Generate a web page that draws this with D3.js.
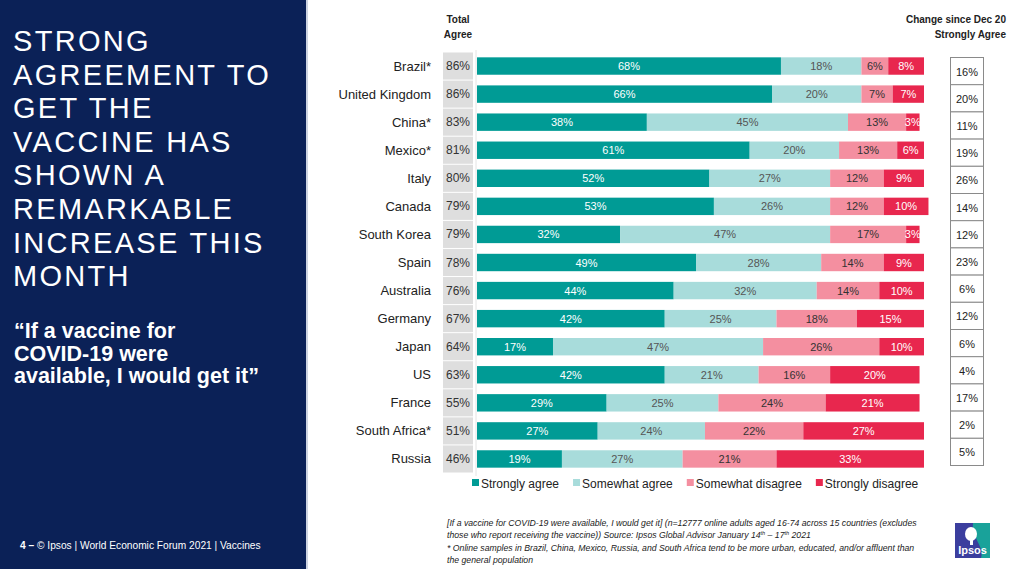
<!DOCTYPE html>
<html>
<head>
<meta charset="utf-8">
<script src="https://cdn.jsdelivr.net/npm/d3@7"></script>
<style>
  html, body { margin: 0; padding: 0; background: #fff; }
  svg { display: block; font-family: "Liberation Sans", Arial, sans-serif; }
</style>
</head>
<body>
<div id="chart"></div>
<script>
// data
const countries = ["Brazil*", "United Kingdom", "China*", "Mexico*", "Italy", "Canada", "South Korea", "Spain",
  "Australia", "Germany", "Japan", "US", "France", "South Africa*", "Russia"];
const totalAgree = [86, 86, 83, 81, 80, 79, 79, 78, 76, 67, 64, 63, 55, 51, 46];
const stronglyAgree = [68, 66, 38, 61, 52, 53, 32, 49, 44, 42, 17, 42, 29, 27, 19];
const somewhatAgree = [18, 20, 45, 20, 27, 26, 47, 28, 32, 25, 47, 21, 25, 24, 27];
const somewhatDisagree = [6, 7, 13, 13, 12, 12, 17, 14, 14, 18, 26, 16, 24, 22, 21];
const stronglyDisagree = [8, 7, 3, 6, 9, 10, 3, 9, 10, 15, 10, 20, 21, 27, 33];
const changeSinceDec = [16, 20, 11, 19, 26, 14, 12, 23, 6, 12, 6, 4, 17, 2, 5];
const seriesNames = ["Strongly agree", "Somewhat agree", "Somewhat disagree", "Strongly disagree"];
const titleLines = ["STRONG", "AGREEMENT TO", "GET THE", "VACCINE HAS", "SHOWN A", "REMARKABLE", "INCREASE THIS", "MONTH"];
const quoteLines = ["\u201CIf a vaccine for", "COVID-19 were", "available, I would get it\u201D"];

const W = 1024, H = 569;
const color = d3.scaleOrdinal().domain(seriesNames).range(['#009b95', '#a8dcdb', '#f48fa0', '#e8274e']);
const labelColor = d3.scaleOrdinal().domain(seriesNames).range(['#ffffff', '#555555', '#333333', '#ffffff']);

const svg = d3.select('#chart').append('svg')
  .attr('width', W)
  .attr('height', H);

// 左侧深蓝面板
svg.append('rect').attr('width', 306).attr('height', H).attr('fill', '#0b2157');
svg.append('rect').attr('x', 306).attr('width', 2).attr('height', H).attr('fill', '#cdd3e0');

svg.append('g').selectAll('text').data(titleLines)
  .join('text')
  .attr('x', 13)
  .attr('y', (d, i) => 51 + i * 33.6)
  .attr('font-size', '29px')
  .attr('letter-spacing', '2.3px')
  .attr('fill', '#fff')
  .text(d => d);

svg.append('g').selectAll('text').data(quoteLines)
  .join('text')
  .attr('x', 14)
  .attr('y', (d, i) => 338 + i * 22.5)
  .attr('font-size', '21.5px')
  .attr('font-weight', 'bold')
  .attr('fill', '#fff')
  .text(d => d);

const foot = svg.append('text').attr('x', 20).attr('y', 549).attr('font-size', '10.2px').attr('fill', '#fff');
foot.append('tspan').attr('font-weight', 'bold').text('4 \u2013 ');
foot.append('tspan').text(' \u00A9 Ipsos |  World Economic Forum 2021 | Vaccines');

// scales
const x = d3.scaleLinear().domain([0, 100]).range([477, 924]);
const y = d3.scaleBand().domain(countries).range([52, 473]).paddingInner(0.38).paddingOuter(0.19);
const row = d3.scaleBand().domain(countries).range([52, 473]);
const boxY = d3.scaleBand().domain(countries).range([57, 465]);

// headers
const hdr = svg.append('g').attr('font-size', '10px').attr('font-weight', 'bold').attr('fill', '#222');
hdr.append('text').attr('x', 458).attr('y', 23).attr('text-anchor', 'middle').text('Total');
hdr.append('text').attr('x', 458).attr('y', 38).attr('text-anchor', 'middle').text('Agree');
hdr.append('text').attr('x', 1006).attr('y', 23).attr('text-anchor', 'end').text('Change since Dec 20');
hdr.append('text').attr('x', 1006).attr('y', 38).attr('text-anchor', 'end').text('Strongly Agree');

// country labels
svg.append('g').selectAll('text').data(countries)
  .join('text')
  .attr('x', 431)
  .attr('y', d => row(d) + row.bandwidth() / 2 + 4.5)
  .attr('text-anchor', 'end')
  .attr('font-size', '13px')
  .attr('fill', '#222')
  .text(d => d);

// total agree grey cells
const tot = svg.append('g');
tot.selectAll('rect').data(countries)
  .join('rect')
  .attr('x', 443)
  .attr('y', d => row(d) + 0.5)
  .attr('width', 30)
  .attr('height', row.bandwidth() - 1)
  .attr('fill', '#dedede');
tot.selectAll('text').data(countries)
  .join('text')
  .attr('x', 458)
  .attr('y', d => row(d) + row.bandwidth() / 2 + 4)
  .attr('text-anchor', 'middle')
  .attr('font-size', '12px')
  .attr('fill', '#333')
  .text((d, i) => totalAgree[i] + '%');

svg.append('line')
  .attr('x1', 476).attr('x2', 476)
  .attr('y1', 50).attr('y2', 476)
  .attr('stroke', '#e4e4e4');

// stacked bars
const table = countries.map((c, i) => ({
  country: c,
  'Strongly agree': stronglyAgree[i],
  'Somewhat agree': somewhatAgree[i],
  'Somewhat disagree': somewhatDisagree[i],
  'Strongly disagree': stronglyDisagree[i]
}));
const stacked = d3.stack().keys(seriesNames)(table);

const layers = svg.append('g').selectAll('g').data(stacked)
  .join('g')
  .attr('fill', d => color(d.key));

layers.selectAll('rect').data(d => d)
  .join('rect')
  .attr('x', d => x(d[0]))
  .attr('y', d => y(d.data.country))
  .attr('width', d => x(d[1]) - x(d[0]))
  .attr('height', y.bandwidth());

layers.selectAll('text').data(d => d.map(p => ({ p: p, key: d.key })))
  .join('text')
  .attr('x', d => (x(d.p[0]) + x(d.p[1])) / 2)
  .attr('y', d => y(d.p.data.country) + y.bandwidth() / 2 + 4)
  .attr('text-anchor', 'middle')
  .attr('font-size', '11px')
  .attr('fill', d => labelColor(d.key))
  .text(d => d.p.data[d.key] + '%');

// change since Dec 20 boxes
const chg = svg.append('g');
chg.selectAll('rect').data(countries)
  .join('rect')
  .attr('x', 950.5)
  .attr('y', d => boxY(d) + 0.5)
  .attr('width', 33)
  .attr('height', boxY.bandwidth())
  .attr('fill', '#fff')
  .attr('stroke', '#8a8a8a')
  .attr('stroke-width', 1);
chg.selectAll('text').data(countries)
  .join('text')
  .attr('x', 967)
  .attr('y', d => boxY(d) + boxY.bandwidth() / 2 + 5)
  .attr('text-anchor', 'middle')
  .attr('font-size', '11px')
  .attr('fill', '#222')
  .text((d, i) => changeSinceDec[i] + '%');

// legend
const legend = svg.append('g').attr('font-size', '12px');
let lx = 472;
seriesNames.forEach(name => {
  legend.append('rect').attr('x', lx).attr('y', 479).attr('width', 7).attr('height', 7).attr('fill', color(name));
  const t = legend.append('text').attr('x', lx + 9).attr('y', 488).attr('fill', '#222').text(name);
  lx += 9 + t.node().getComputedTextLength() + 14;
});

// footnote
const note = svg.append('g').attr('font-size', '8.7px').attr('font-style', 'italic').attr('fill', '#222');
note.append('text').attr('x', 447).attr('y', 526)
  .text('[If a vaccine for COVID-19 were available, I would get it] (n=12777 online adults aged 16-74 across 15 countries (excludes');
const n2 = note.append('text').attr('x', 447).attr('y', 538);
n2.append('tspan').text('those who report receiving the vaccine)) Source: Ipsos Global Advisor January 14');
n2.append('tspan').attr('dy', -3).attr('font-size', '5.5px').text('th');
n2.append('tspan').attr('dy', 3).text(' \u2013 17');
n2.append('tspan').attr('dy', -3).attr('font-size', '5.5px').text('th');
n2.append('tspan').attr('dy', 3).text(' 2021');
note.append('text').attr('x', 447).attr('y', 551)
  .text('* Online samples in Brazil, China, Mexico, Russia, and South Africa tend to be more urban, educated, and/or affluent than');
note.append('text').attr('x', 447).attr('y', 563).text('the general population');

// Ipsos logo
const logo = svg.append('g').attr('transform', 'translate(955,523)');
logo.append('rect').attr('width', 35).attr('height', 35).attr('fill', '#3b3e9e');
logo.append('path').attr('d', 'M18,0 L35,0 L35,35 L26,35 C30,24 16,14 18,0 Z').attr('fill', '#19a29a');
logo.append('ellipse').attr('cx', 16).attr('cy', 11).attr('rx', 6).attr('ry', 7).attr('fill', '#fff');
logo.append('rect').attr('x', 15).attr('y', 15).attr('width', 3).attr('height', 7).attr('fill', '#fff');
logo.append('text').attr('x', 17.5).attr('y', 31).attr('text-anchor', 'middle')
  .attr('font-size', '11px').attr('font-weight', 'bold').attr('fill', '#fff').text('Ipsos');
</script>
</body>
</html>
